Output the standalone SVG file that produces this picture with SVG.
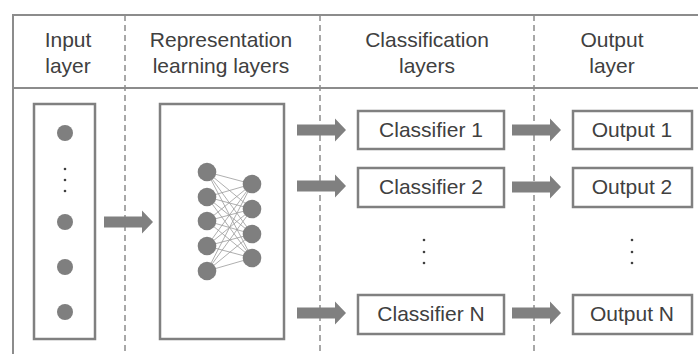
<svg xmlns="http://www.w3.org/2000/svg" width="698" height="354" viewBox="0 0 698 354">
<style>
text{font-family:"Liberation Sans",Arial,sans-serif;font-size:21px;fill:#404040;text-anchor:middle}
.frame{stroke:#8c8c8c;stroke-width:2;fill:none}
.dash{stroke:#8c8c8c;stroke-width:1.5;stroke-dasharray:6 4;fill:none}
.box{stroke:#808080;stroke-width:2.5;fill:#fff}
.node{fill:#7f7f7f}
.edge{stroke:#9a9a9a;stroke-width:0.8}
.arrow{fill:#808080}
.dot{fill:#404040}
</style>
<defs>
<path id="arr" d="M0,-5.5 H38 V-11.5 L49,0 L38,11.5 V5.5 H0 Z"/>
</defs>
<rect width="698" height="354" fill="#fff"/>
<g id="frame">
<line class="frame" x1="13" y1="15" x2="698" y2="15"/>
<line class="frame" x1="13" y1="88" x2="698" y2="88"/>
<line class="frame" x1="13" y1="14" x2="13" y2="354"/>
<line class="dash" x1="125" y1="15" x2="125" y2="354"/>
<line class="dash" x1="320" y1="15" x2="320" y2="354"/>
<line class="dash" x1="534" y1="15" x2="534" y2="354"/>
</g>
<g id="headers">
<text x="68" y="47">Input</text><text x="68" y="73">layer</text>
<text x="221" y="47">Representation</text><text x="221" y="73">learning layers</text>
<text x="427" y="47">Classification</text><text x="427" y="73">layers</text>
<text x="612" y="47">Output</text><text x="612" y="73">layer</text>
</g>
<g id="input-layer">
<rect class="box" x="34" y="104" width="61" height="235"/>
<circle class="node" cx="65" cy="133" r="8"/>
<circle class="dot" cx="65" cy="169" r="1.3"/><circle class="dot" cx="65" cy="180" r="1.3"/><circle class="dot" cx="65" cy="191" r="1.3"/>
<circle class="node" cx="65" cy="222" r="8"/>
<circle class="node" cx="65" cy="267" r="8"/>
<circle class="node" cx="65" cy="312" r="8"/>
</g>
<g id="representation">
<rect class="box" x="160" y="104" width="124" height="235"/>
<g id="nn-edges">
<line class="edge" x1="207" y1="172" x2="252" y2="184"/><line class="edge" x1="207" y1="172" x2="252" y2="209"/><line class="edge" x1="207" y1="172" x2="252" y2="234"/><line class="edge" x1="207" y1="172" x2="252" y2="258"/>
<line class="edge" x1="207" y1="197" x2="252" y2="184"/><line class="edge" x1="207" y1="197" x2="252" y2="209"/><line class="edge" x1="207" y1="197" x2="252" y2="234"/><line class="edge" x1="207" y1="197" x2="252" y2="258"/>
<line class="edge" x1="207" y1="221" x2="252" y2="184"/><line class="edge" x1="207" y1="221" x2="252" y2="209"/><line class="edge" x1="207" y1="221" x2="252" y2="234"/><line class="edge" x1="207" y1="221" x2="252" y2="258"/>
<line class="edge" x1="207" y1="246" x2="252" y2="184"/><line class="edge" x1="207" y1="246" x2="252" y2="209"/><line class="edge" x1="207" y1="246" x2="252" y2="234"/><line class="edge" x1="207" y1="246" x2="252" y2="258"/>
<line class="edge" x1="207" y1="271" x2="252" y2="184"/><line class="edge" x1="207" y1="271" x2="252" y2="209"/><line class="edge" x1="207" y1="271" x2="252" y2="234"/><line class="edge" x1="207" y1="271" x2="252" y2="258"/>
</g>
<circle class="node" cx="207" cy="172" r="9.3"/><circle class="node" cx="207" cy="197" r="9.3"/><circle class="node" cx="207" cy="221" r="9.3"/><circle class="node" cx="207" cy="246" r="9.3"/><circle class="node" cx="207" cy="271" r="9.3"/>
<circle class="node" cx="252" cy="184" r="9.3"/><circle class="node" cx="252" cy="209" r="9.3"/><circle class="node" cx="252" cy="234" r="9.3"/><circle class="node" cx="252" cy="258" r="9.3"/>
</g>
<g id="classifier-1"><rect class="box" x="358" y="111" width="146" height="38"/><text x="431" y="137">Classifier 1</text></g>
<g id="classifier-2"><rect class="box" x="358" y="168" width="146" height="39"/><text x="431" y="194">Classifier 2</text></g>
<g id="classifier-n"><rect class="box" x="358" y="295" width="146" height="39"/><text x="431" y="321">Classifier N</text></g>
<g id="classifier-dots"><circle class="dot" cx="424" cy="240" r="1.3"/><circle class="dot" cx="424" cy="252" r="1.3"/><circle class="dot" cx="424" cy="263" r="1.3"/></g>
<g id="output-1"><rect class="box" x="573" y="111" width="119" height="38"/><text x="632" y="137">Output 1</text></g>
<g id="output-2"><rect class="box" x="573" y="168" width="119" height="39"/><text x="632" y="194">Output 2</text></g>
<g id="output-n"><rect class="box" x="573" y="295" width="119" height="39"/><text x="632" y="321">Output N</text></g>
<g id="output-dots"><circle class="dot" cx="632" cy="240" r="1.3"/><circle class="dot" cx="632" cy="252" r="1.3"/><circle class="dot" cx="632" cy="263" r="1.3"/></g>
<g id="connectors">
<use class="arrow" href="#arr" x="104" y="222"/>
<use class="arrow" href="#arr" x="297" y="130"/>
<use class="arrow" href="#arr" x="297" y="186"/>
<use class="arrow" href="#arr" x="297" y="313"/>
<use class="arrow" href="#arr" x="512" y="130"/>
<use class="arrow" href="#arr" x="512" y="187"/>
<use class="arrow" href="#arr" x="512" y="313"/>
</g>
</svg>
